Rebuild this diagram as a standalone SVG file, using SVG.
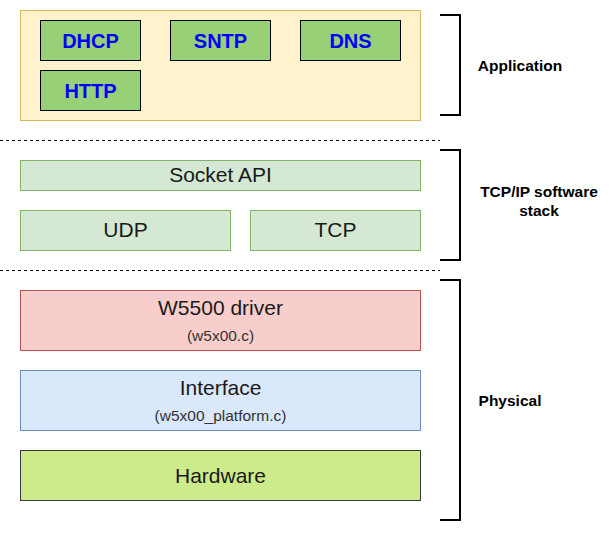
<svg xmlns="http://www.w3.org/2000/svg" width="611" height="535" viewBox="0 0 611 535">
<style>
text{font-family:"Liberation Sans",Arial,sans-serif;text-anchor:middle}
.app{fill:#97d077;stroke:#000;stroke-width:1}
.appt{font-size:20px;font-weight:bold;fill:#0000ff}
.green{fill:#d5e8d4;stroke:#82b366;stroke-width:1}
.t{font-size:21px;fill:#1a1a1a}
.s{font-size:15.5px;fill:#333}
.lbl{font-size:15.5px;font-weight:bold;fill:#000}
.br{fill:none;stroke:#000;stroke-width:2}
.dash{stroke:#000;stroke-width:1;stroke-dasharray:3 3}
</style>
<rect width="611" height="535" fill="#fff"/>
<g id="application">
<rect x="20.5" y="10.5" width="400" height="110" fill="#fff2cc" stroke="#d6b656"/>
</g>
<g id="dhcp"><rect class="app" x="40.5" y="20.5" width="100" height="40"/><text class="appt" x="90.5" y="47.5">DHCP</text></g>
<g id="sntp"><rect class="app" x="170.5" y="20.5" width="100" height="40"/><text class="appt" x="220.5" y="47.5">SNTP</text></g>
<g id="dns"><rect class="app" x="300.5" y="20.5" width="100" height="40"/><text class="appt" x="350.5" y="47.5">DNS</text></g>
<g id="http"><rect class="app" x="40.5" y="70.5" width="100" height="40"/><text class="appt" x="90.5" y="97.5">HTTP</text></g>
<g id="socketapi"><rect class="green" x="20.5" y="160.5" width="400" height="30"/><text class="t" x="220.5" y="182">Socket API</text></g>
<g id="udp"><rect class="green" x="20.5" y="210.5" width="210" height="40"/><text class="t" x="125.5" y="237">UDP</text></g>
<g id="tcp"><rect class="green" x="250.5" y="210.5" width="170" height="40"/><text class="t" x="335.5" y="237">TCP</text></g>
<g id="driver"><rect x="20.5" y="290.5" width="400" height="60" fill="#f8cecc" stroke="#b85450"/><text class="t" x="220.5" y="315">W5500 driver</text><text class="s" x="220.5" y="341">(w5x00.c)</text></g>
<g id="interface"><rect x="20.5" y="370.5" width="400" height="60" fill="#dae8fc" stroke="#6c8ebf"/><text class="t" x="220.5" y="395">Interface</text><text class="s" x="220.5" y="421">(w5x00_platform.c)</text></g>
<g id="hardware"><rect x="20.5" y="450.5" width="400" height="50" fill="#cdeb8b" stroke="#36393d"/><text class="t" x="220.5" y="483">Hardware</text></g>
<g id="connectors">
<line class="dash" x1="0" y1="140.5" x2="440" y2="140.5"/>
<line class="dash" x1="0" y1="270.5" x2="440" y2="270.5"/>
<path class="br" d="M440,15 H460 V115 H440"/>
<path class="br" d="M440,150 H460 V260 H440"/>
<path class="br" d="M440,280 H460 V520 H440"/>
</g>
<g id="labels">
<text class="lbl" x="520" y="71">Application</text>
<text class="lbl" x="539" y="197">TCP/IP software</text>
<text class="lbl" x="539" y="216">stack</text>
<text class="lbl" x="510" y="406">Physical</text>
</g>
</svg>
